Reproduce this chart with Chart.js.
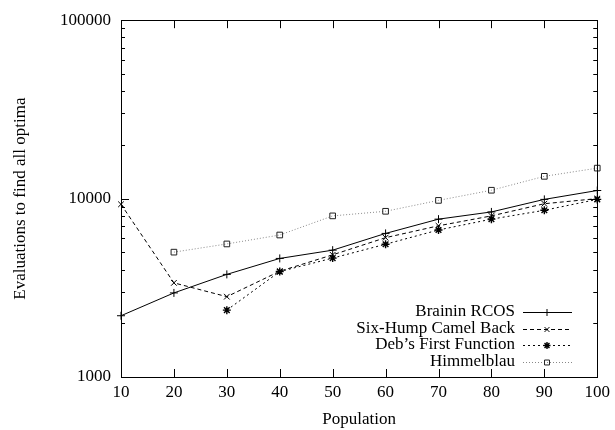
<!DOCTYPE html>
<html><head><meta charset="utf-8">
<script src="https://cdn.jsdelivr.net/npm/chart.js@4/dist/chart.umd.min.js"></script>
<style>html,body{margin:0;padding:0;background:#fff}#wrap{width:615px;height:430px}</style>
</head><body><div id="wrap"><canvas id="c" width="615" height="430"></canvas></div>
<script>
const populations = [10, 20, 30, 40, 50, 60, 70, 80, 90, 100];
const braininRCOS = [2205, 2960, 3760, 4620, 5140, 6380, 7670, 8420, 9900, 11100];
const sixHumpCamelBack = [9290, 3370, 2820, 3915, 4840, 6040, 7040, 8000, 9360, 10000];
const debsFirstFunction = [null, null, 2370, 3900, 4640, 5550, 6670, 7670, 8600, 9900];
const himmelblau = [null, 5010, 5570, 6250, 8000, 8490, 9770, 11140, 13330, 14820];
const yTickValues = [1000, 10000, 100000];
const seriesLabels = ["Brainin RCOS", "Six-Hump Camel Back", "Deb\u2019s First Function", "Himmelblau"];

const FONT = "'Liberation Serif', 'DejaVu Serif', serif";

const mk = (arr) => populations.map((x, i) => ({x: x, y: arr[i]}));

const styles = [
  {color: '#000', dash: [], point: 'cross', pColor: '#000', pw: 1},
  {color: '#000', dash: [4, 3], point: 'crossRot', pColor: '#000', pw: 1},
  {color: '#000', dash: [2, 3], point: 'star', pColor: '#000', pw: 1.4},
  {color: '#888', dash: [1, 2], point: 'rect', pColor: '#222', pw: 1}
];
const seriesData = [braininRCOS, sixHumpCamelBack, debsFirstFunction, himmelblau];

const datasets = seriesData.map((arr, i) => ({
  label: seriesLabels[i],
  data: mk(arr).filter(p => p.y !== null),
  borderColor: styles[i].color,
  borderWidth: 1,
  borderDash: styles[i].dash,
  pointStyle: styles[i].point,
  pointRadius: 4,
  pointBorderColor: styles[i].pColor,
  pointBackgroundColor: 'rgba(0,0,0,0)',
  pointBorderWidth: styles[i].pw,
  tension: 0,
  clip: false
}));

const framePlugin = {
  id: 'frame',
  afterDraw(chart) {
    const ctx = chart.ctx, a = chart.chartArea;
    const xs = chart.scales.x, ys = chart.scales.y;
    ctx.save();
    ctx.strokeStyle = '#000';
    ctx.lineWidth = 1;
    ctx.setLineDash([]);
    ctx.strokeRect(Math.round(a.left) + 0.5, Math.round(a.top) + 0.5, Math.round(a.right - a.left), Math.round(a.bottom - a.top));
    ctx.beginPath();
    for (const v of populations) {
      const px = Math.round(xs.getPixelForValue(v)) + 0.5;
      ctx.moveTo(px, a.bottom); ctx.lineTo(px, a.bottom - 8);
      ctx.moveTo(px, a.top); ctx.lineTo(px, a.top + 8);
    }
    for (let d = 0; d < yTickValues.length; d++) {
      const base = yTickValues[d];
      for (let m = 1; m <= 9; m++) {
        const v = base * m;
        if (v > yTickValues[yTickValues.length - 1]) break;
        const py = Math.round(ys.getPixelForValue(v)) + 0.5;
        const len = m === 1 ? 8 : 4;
        ctx.moveTo(a.left, py); ctx.lineTo(a.left + len, py);
        ctx.moveTo(a.right, py); ctx.lineTo(a.right - len, py);
      }
    }
    ctx.stroke();

    ctx.font = '17px ' + FONT;
    ctx.textAlign = 'right';
    ctx.textBaseline = 'middle';
    chart.data.datasets.forEach((ds, i) => {
      const y = 312 + i * 16.5;
      ctx.fillStyle = '#000';
      ctx.fillText(ds.label, 515, y);
      ctx.beginPath();
      ctx.strokeStyle = ds.borderColor;
      ctx.lineWidth = 1;
      ctx.setLineDash(ds.borderDash);
      ctx.moveTo(523, Math.round(y) + 0.5); ctx.lineTo(572, Math.round(y) + 0.5);
      ctx.stroke();
      ctx.setLineDash([]);
      ctx.strokeStyle = ds.pointBorderColor;
      ctx.fillStyle = 'rgba(0,0,0,0)';
      ctx.lineWidth = ds.pointBorderWidth;
      Chart.helpers.drawPoint(ctx, {pointStyle: ds.pointStyle, radius: 3.5, borderWidth: ds.pointBorderWidth, rotation: 0}, 547, Math.round(y) + 0.5);
    });
    ctx.restore();
  }
};

new Chart(document.getElementById('c'), {
  type: 'line',
  data: {datasets},
  plugins: [framePlugin],
  options: {
    responsive: false,
    animation: false,
    layout: {padding: {top: 16, right: 16, left: 0, bottom: 0}},
    plugins: {legend: {display: false}, tooltip: {enabled: false}},
    scales: {
      x: {
        type: 'linear', min: 10, max: 100,
        afterBuildTicks: (s) => { s.ticks = populations.map(v => ({value: v})); },
        afterFit: (s) => { s.height = 53; },
        grid: {display: false, drawTicks: false},
        border: {display: false},
        ticks: {color: '#000', font: {family: FONT, size: 17}, padding: 5, maxRotation: 0, autoSkip: false},
        title: {display: true, text: 'Population', color: '#000', font: {family: FONT, size: 17}, padding: {top: 3, bottom: 0}}
      },
      y: {
        type: 'logarithmic', min: 1000, max: 100000,
        afterBuildTicks: (s) => { s.ticks = yTickValues.map(v => ({value: v})); },
        afterFit: (s) => { s.width = 121; },
        grid: {display: false, drawTicks: false},
        border: {display: false},
        ticks: {color: '#000', font: {family: FONT, size: 17}, padding: 10, callback: (v) => String(v)},
        title: {display: true, text: 'Evaluations to find all optima', color: '#000', font: {family: FONT, size: 17}, padding: {top: 10, bottom: 0}}
      }
    }
  }
});
</script></body></html>
